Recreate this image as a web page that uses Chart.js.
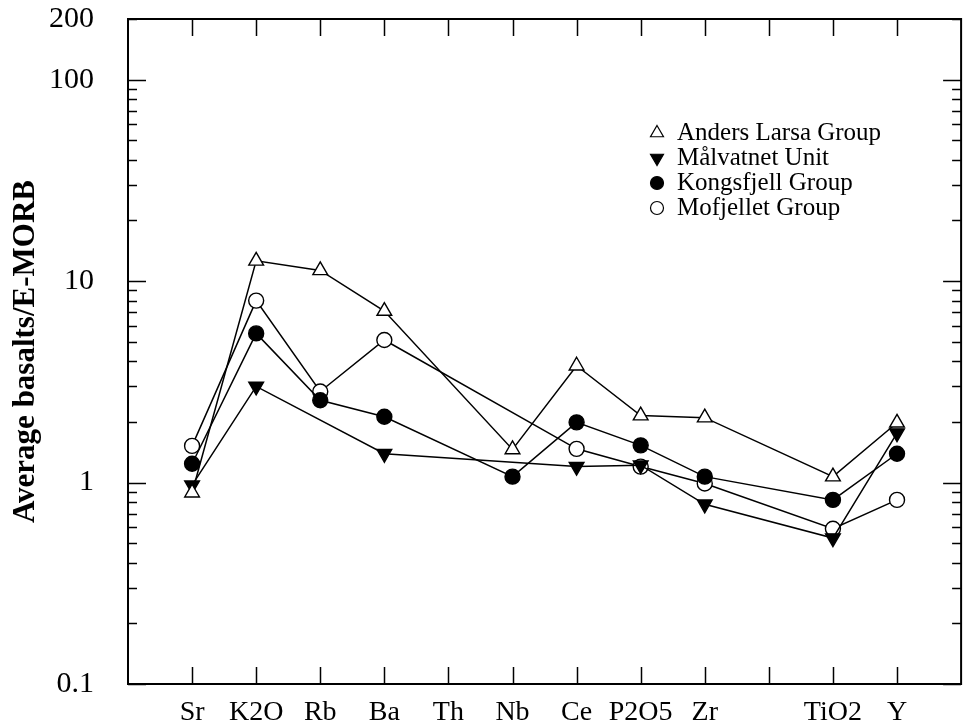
<!DOCTYPE html>
<html>
<head>
<meta charset="utf-8">
<title>Average basalts / E-MORB</title>
<script src="https://cdn.jsdelivr.net/npm/chart.js@4.4.1/dist/chart.umd.min.js"></script>
<style>
  html, body { margin: 0; padding: 0; background: #fff; }
  #wrap { width: 971px; height: 726px; position: relative; }
</style>
</head>
<body>
<div id="wrap"><canvas id="spider"></canvas></div>
<script>
// element order along the x axis (one unlabeled slot between Zr and TiO2)
const elements = ['Sr', 'K2O', 'Rb', 'Ba', 'Th', 'Nb', 'Ce', 'P2O5', 'Zr', '', 'TiO2', 'Y'];

// normalised averages, null where a group has no value
const andersLarsa = [0.89, 12.6, 11.3, 7.1, null, 1.46, 3.8, 2.15, 2.1, null, 1.07, 1.98];
const malvatnet   = [0.97, 3.0, null, 1.39, null, null, 1.2, 1.22, 0.78, null, 0.53, 1.76];
const kongsfjell  = [1.24, 5.5, 2.56, 2.12, null, 1.07, 1.99, 1.53, 1.07, null, 0.82, 1.39];
const mofjellet   = [1.52, 8.0, 2.83, 5.1, null, null, 1.47, 1.2, 0.99, null, 0.59, 0.82];

const yLabelValues = [0.1, 1, 10, 100, 200];

const toPoints = arr => arr.map((v, i) => ({ x: i, y: v }));

Chart.defaults.font.family = 'Liberation Serif, Times New Roman, serif';
Chart.defaults.color = '#000';

const series = (label, values, style, filled, radius, rotation) => ({
  label: label,
  data: toPoints(values),
  borderColor: '#000',
  borderWidth: 1.5,
  pointStyle: style,
  pointRotation: rotation || 0,
  pointRadius: radius,
  pointHoverRadius: radius,
  pointBorderWidth: 1.4,
  pointBorderColor: '#000',
  pointBackgroundColor: filled ? '#000' : '#fff',
  spanGaps: true,
  tension: 0
});

// inward tick marks on all four sides plus the frame
const frameTicks = {
  id: 'frameTicks',
  beforeDatasetsDraw(chart) {
    const ctx = chart.ctx;
    const { left, right, top, bottom } = chart.chartArea;
    const xs = chart.scales.x, ys = chart.scales.y;
    ctx.save();
    ctx.strokeStyle = '#000';
    ctx.lineWidth = 1.5;
    ctx.beginPath();
    elements.forEach((e, i) => {
      const px = Math.round(xs.getPixelForValue(i)) + 0.5;
      ctx.moveTo(px, top); ctx.lineTo(px, top + 17);
      ctx.moveTo(px, bottom); ctx.lineTo(px, bottom - 17);
    });
    [0.1, 1, 10, 100].forEach(d => {
      for (let m = 1; m <= 9; m++) {
        const v = d * m;
        if (v > 200) break;
        const py = Math.round(ys.getPixelForValue(v)) + 0.5;
        const len = m === 1 ? 18 : 9;
        ctx.moveTo(left, py); ctx.lineTo(left + len, py);
        ctx.moveTo(right, py); ctx.lineTo(right - len, py);
      }
    });
    ctx.stroke();
    ctx.lineWidth = 2;
    ctx.strokeRect(left, top, right - left, bottom - top);
    ctx.restore();
  }
};

// legend drawn inside the plot area
const innerLegend = {
  id: 'innerLegend',
  afterDraw(chart) {
    const ctx = chart.ctx;
    const x0 = 657, y0 = 133, step = 25;
    ctx.save();
    ctx.font = '25px "Liberation Serif"';
    ctx.textBaseline = 'middle';
    chart.data.datasets.forEach((ds, i) => {
      const y = y0 + i * step;
      ctx.strokeStyle = '#000';
      ctx.fillStyle = ds.pointBackgroundColor;
      ctx.lineWidth = 1.2;
      Chart.helpers.drawPoint(ctx, {
        pointStyle: ds.pointStyle,
        rotation: ds.pointRotation,
        radius: ds.pointStyle === 'triangle' ? 7.5 : 6.5,
        borderWidth: 1.2
      }, x0, y);
      ctx.fillStyle = '#000';
      ctx.fillText(ds.label, x0 + 20, y);
    });
    ctx.restore();
  }
};

new Chart(document.getElementById('spider'), {
  type: 'line',
  data: {
    datasets: [
      series('Anders Larsa Group', andersLarsa, 'triangle', false, 8.5, 0),
      series('Målvatnet Unit', malvatnet, 'triangle', true, 8.5, 180),
      series('Kongsfjell Group', kongsfjell, 'circle', true, 7.5),
      series('Mofjellet Group', mofjellet, 'circle', false, 7.5)
    ]
  },
  options: {
    responsive: true,
    maintainAspectRatio: false,
    animation: false,
    layout: { padding: { top: 19, right: 4, left: 0, bottom: 0 } },
    plugins: {
      legend: { display: false },
      tooltip: { enabled: false }
    },
    scales: {
      x: {
        type: 'linear',
        min: -1,
        max: 12,
        grid: { display: false },
        border: { display: false },
        afterBuildTicks: scale => {
          scale.ticks = elements.map((e, i) => ({ value: i }));
        },
        afterFit: scale => {
          scale.height = 42;
          scale.paddingLeft = 0;
          scale.paddingRight = 0;
        },
        ticks: {
          autoSkip: false,
          maxRotation: 0,
          padding: 4,
          font: { size: 28 },
          callback: v => elements[v]
        }
      },
      y: {
        type: 'logarithmic',
        min: 0.1,
        max: 200,
        grid: { display: false },
        border: { display: false },
        afterBuildTicks: scale => {
          scale.ticks = yLabelValues.map(v => ({ value: v }));
        },
        afterFit: scale => {
          scale.width = 128;
          scale.paddingTop = 0;
          scale.paddingBottom = 0;
        },
        ticks: {
          padding: 26,
          font: { size: 30 },
          callback: v => String(v)
        },
        title: {
          display: true,
          text: 'Average basalts/E-MORB',
          font: { size: 31, weight: 'bold' },
          padding: { top: 7, bottom: 0 }
        }
      }
    }
  },
  plugins: [frameTicks, innerLegend]
});
</script>
</body>
</html>
